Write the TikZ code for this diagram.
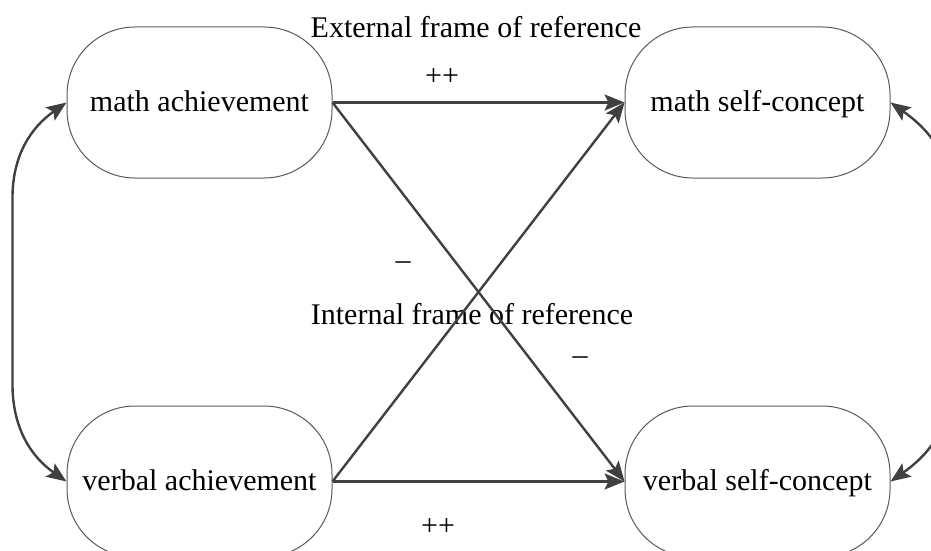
\documentclass[tikz,border=0pt]{standalone}
\usepackage{fontspec}
\setmainfont{Liberation Serif}
\usetikzlibrary{arrows.meta, positioning}

\begin{document}
\begin{tikzpicture}[
    x=0.5pt, y=-0.5pt,
    node distance=113.5pt and 146pt,
    box/.style={draw=black!65, line width=0.5pt, rounded corners=34pt, align=center, minimum width=132.5pt, minimum height=75.5pt, inner sep=0pt, text height=12pt, text depth=3pt, font=\fontsize{15}{18}\selectfont},
    tag/.style={inner sep=0pt, font=\fontsize{15}{18}\selectfont},
    arrow/.style={-{Stealth[length=10pt, width=8pt, inset=2pt]}, line width=1.2pt, draw=black!75},
    twoway/.style={{Stealth[length=10pt, width=8pt, inset=2pt]}-{Stealth[length=10pt, width=8pt, inset=2pt]}, line width=1.2pt, draw=black!75}
]
\useasboundingbox (0,0) rectangle (931,551);
\node[box] (mathach) at (199.5,102.5) {math achievement};
\node[box, right=of mathach] (mathsc) {math self-concept};
\node[box, below=of mathach] (verbach) {verbal achievement};
\node[box, right=of verbach] (verbsc) {verbal self-concept};

\node[tag] (extframe) at (476,27) {External frame of reference};
\node[tag] (intframe) at (472,314) {Internal frame of reference};
\node[tag] (plustop) at (442,77) {++};
\node[tag] (plusbot) at (438,527) {++};
\node[tag] (minusa) at (403,266) {\textendash};
\node[tag] (minusb) at (580,361) {\textendash};

\draw[arrow] (mathach.east) -- (mathsc.west);
\draw[arrow] (mathach.east) -- (verbsc.west);
\draw[arrow] (verbach.east) -- (mathsc.west);
\draw[arrow] (verbach.east) -- (verbsc.west);
\draw[twoway] (mathach.west) to[out=215, in=90] ++(-54,95) -- ++(0,187) to[out=-90, in=145] (verbach.west);
\draw[twoway] (mathsc.east) to[out=-35, in=90] ++(60,95) -- ++(0,187) to[out=-90, in=35] (verbsc.east);
\end{tikzpicture}
\end{document}
